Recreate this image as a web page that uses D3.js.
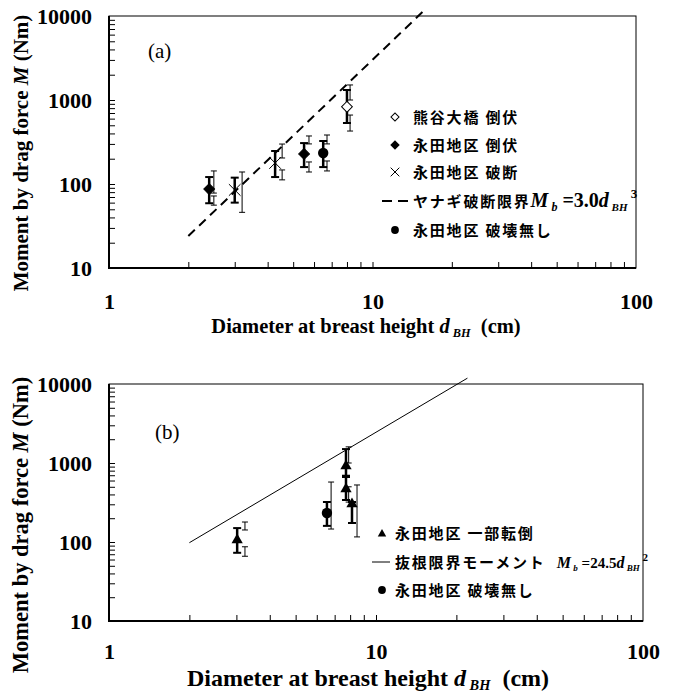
<!DOCTYPE html>
<html>
<head>
<meta charset="utf-8">
<script src="https://cdn.jsdelivr.net/npm/d3@7"></script>
<style>
  body { margin: 0; background: #fff; }
  text { fill: #000; white-space: pre; }
</style>
</head>
<body>
<div id="chart"></div>
<script>
// tick labels
const xMajor = [1, 10, 100];
const yMajor = [10, 100, 1000, 10000];

// panel (a) : d = diameter (cm), m = moment (Nm), bar = bold error bar, d2/thin = thin error bars
const aKumagayaFallen = [
  { d: 8.0, m: 830, bar: [532, 1316], d2: 8.22, thin: [[1000, 1510], [427, 662]] }
];
const aNagataFallen = [
  { d: 2.40, m: 87, bar: [59, 121], d2: 2.50, thin: [[78, 143], [56, 72]] },
  { d: 5.5, m: 228, bar: [159, 307], d2: 5.74, thin: [[300, 373], [139, 183]] }
];
const aNagataBroken = [
  { d: 3.0, m: 85, bar: [60, 119], d2: 3.2, thin: [[46, 139]] },
  { d: 4.27, m: 178, bar: [121, 247], d2: 4.54, thin: [[204, 299], [112, 147]] }
];
const aNagataIntact = [
  { d: 6.5, m: 234, bar: [159, 325], d2: 6.72, thin: [[300, 383], [143, 188]] }
];
const aLimitLine = [[2, 24], [15.5, 11200]];   // M_b = 3.0 d^3
const aLegend = ["熊谷大橋 倒伏", "永田地区 倒伏", "永田地区 破断", "ヤナギ破断限界", "永田地区 破壊無し"];

// panel (b)
const bNagataPartial = [
  { d: 3.02, m: 109, bar: [73, 150], d2: 3.23, thin: [[142, 179], [66, 87]] },
  { d: 7.72, m: 944, bar: [690, 1500], d2: 7.9, thin: [[1000, 1600]] },
  { d: 7.72, m: 483, bar: [340, 665], d2: 7.9, thin: [[320, 500]] },
  { d: 8.13, m: 312, bar: [174, 321], d2: 8.49, thin: [[116, 527]] }
];
const bNagataIntact = [
  { d: 6.55, m: 233, bar: [160, 321], d2: 6.79, thin: [[146, 574]] }
];
const bLimitLine = [[2, 98], [22, 11860]];     // M_b = 24.5 d^2
const bLegend = ["永田地区 一部転倒", "抜根限界モーメント", "永田地区 破壊無し"];

const SERIF = '"Liberation Serif", "Times New Roman", serif';
const JP = '"Noto Sans CJK JP", sans-serif';

const svg = d3.select("#chart").append("svg")
  .attr("width", 675).attr("height", 693);
svg.append("rect").attr("width", 675).attr("height", 693).attr("fill", "#fff");

function serif(sel, size, weight) {
  return sel.style("font-family", SERIF).style("font-weight", weight || "bold")
    .style("font-size", size + "px");
}

// writes mixed-style text as tspans: {t, it, s (baseline shift px), fs, jp}
function rich(sel, parts) {
  let cur = 0;
  parts.forEach(p => {
    const s = p.s || 0;
    const ts = sel.append("tspan").text(p.t).attr("dy", s - cur);
    cur = s;
    if (p.it) ts.style("font-style", "italic");
    if (p.fs) ts.style("font-size", p.fs + "px");
    if (p.jp) ts.style("font-family", JP).style("letter-spacing", "1.8px");
  });
}

function marker(g, type, cx, cy, k) {
  k = k || 1;
  if (type == "diamond" || type == "diamondOpen") {
    g.append("path")
      .attr("d", d3.symbol(d3.symbolSquare, 58 * k * k)())
      .attr("transform", `translate(${cx},${cy}) rotate(45)`)
      .attr("fill", type == "diamond" ? "#000" : "#fff")
      .attr("stroke", "#000").attr("stroke-width", 1);
  } else if (type == "x") {
    g.append("path")
      .attr("d", d3.symbol(d3.symbolX, 90 * k * k)())
      .attr("transform", `translate(${cx},${cy})`)
      .attr("fill", "none").attr("stroke", "#000").attr("stroke-width", 1);
  } else if (type == "circle") {
    g.append("path")
      .attr("d", d3.symbol(d3.symbolCircle, 85 * k * k)())
      .attr("transform", `translate(${cx},${cy})`)
      .attr("fill", "#000");
  } else if (type == "triangle") {
    g.append("path")
      .attr("d", d3.symbol(d3.symbolTriangle, 55 * k * k)())
      .attr("transform", `translate(${cx},${cy + 1})`)
      .attr("fill", "#000");
  }
}

function errBar(g, x0, y0, y1, w, sw, cw) {
  g.append("line").attr("x1", x0).attr("x2", x0).attr("y1", y0).attr("y2", y1)
    .attr("stroke", "#000").attr("stroke-width", sw);
  [y0, y1].forEach(yy => g.append("line")
    .attr("x1", x0 - w / 2).attr("x2", x0 + w / 2).attr("y1", yy).attr("y2", yy)
    .attr("stroke", "#000").attr("stroke-width", cw));
}

function drawPanel(p) {
  const g = svg.append("g");
  const x = d3.scaleLog().domain([1, 100]).range([p.left, p.right]);
  const y = d3.scaleLog().domain([10, 10000]).range([p.bottom, p.top]);

  // minor + major ticks pointing inward
  const xt = x.ticks().filter(v => v > 1 && v < 100);
  const yt = y.ticks().filter(v => v > 10 && v < 10000);
  g.append("g").attr("transform", `translate(0,${p.bottom})`)
    .call(d3.axisBottom(x).tickValues(xt).tickSize(-6).tickFormat(""))
    .call(a => a.select(".domain").remove());
  g.append("g").attr("transform", `translate(${p.left},0)`)
    .call(d3.axisLeft(y).tickValues(yt).tickSize(-6).tickFormat(""))
    .call(a => a.select(".domain").remove());

  // tick labels
  g.append("g").attr("transform", `translate(0,${p.bottom})`)
    .call(d3.axisBottom(x).tickValues(xMajor).tickSize(0).tickPadding(p.xPad).tickFormat(d3.format("d")))
    .call(a => a.select(".domain").remove())
    .selectAll("text").call(serif, 22);
  g.append("g").attr("transform", `translate(${p.left},0)`)
    .call(d3.axisLeft(y).tickValues(yMajor).tickSize(0).tickPadding(17).tickFormat(d3.format("d")))
    .call(a => a.select(".domain").remove())
    .selectAll("text").call(serif, 22);

  // frame
  g.append("rect").attr("x", p.left).attr("y", p.top)
    .attr("width", p.right - p.left).attr("height", p.bottom - p.top)
    .attr("fill", "none").attr("stroke", "#000").attr("stroke-width", 1);
  g.append("path")
    .attr("d", `M${p.left},${p.top}V${p.bottom}H${p.right}`)
    .attr("fill", "none").attr("stroke", "#000").attr("stroke-width", 2);

  // limit line
  g.append("path")
    .datum(p.line)
    .attr("d", d3.line().x(d => x(d[0])).y(d => y(d[1])))
    .attr("fill", "none").attr("stroke", "#000")
    .attr("stroke-width", p.dashed ? 2 : 1)
    .attr("stroke-dasharray", p.dashed ? "9,6" : null);

  // error bars then markers
  p.series.forEach(s => {
    s.data.forEach(d => {
      d.thin.forEach(t => errBar(g, x(d.d2), y(t[0]), y(t[1]), 6, 1, 1));
      errBar(g, x(d.d), y(d.bar[0]), y(d.bar[1]), 8, 2.5, 2);
    });
  });
  p.series.forEach(s => s.data.forEach(d => marker(g, s.type, x(d.d), y(d.m))));

  // panel tag
  g.append("text").attr("x", p.tag[1]).attr("y", p.tag[2])
    .call(serif, 21, "normal").text(p.tag[0]);

  // axis titles
  const yt2 = g.append("text")
    .attr("transform", `translate(28,${p.yMid}) rotate(-90)`)
    .attr("text-anchor", "middle").call(serif, p.yFs);
  rich(yt2, [{ t: "Moment by drag force " }, { t: "M", it: true }, { t: " (Nm)" }]);
  const xt2 = g.append("text")
    .attr("x", p.xMid).attr("y", p.xBase)
    .attr("text-anchor", "middle").call(serif, p.xFs);
  rich(xt2, [{ t: "Diameter at breast height " }, { t: "d", it: true },
    { t: " BH", it: true, fs: p.xFs * 0.6, s: 4 }, { t: "  (cm)", s: 0 }]);

  // legend
  p.legend.forEach((it, i) => {
    const cy = p.legY[i];
    if (it.type == "dash") {
      g.append("line").attr("x1", p.legLine[0]).attr("x2", p.legLine[1])
        .attr("y1", cy).attr("y2", cy).attr("stroke", "#000").attr("stroke-width", 2)
        .attr("stroke-dasharray", "10,6");
    } else if (it.type == "line") {
      g.append("line").attr("x1", p.legLine[0]).attr("x2", p.legLine[1])
        .attr("y1", cy).attr("y2", cy).attr("stroke", "#000").attr("stroke-width", 1);
    } else {
      marker(g, it.type, p.legSymX, cy, 0.75);
    }
    const t = g.append("text").attr("x", p.legTextX).attr("y", cy + 5.5).call(serif, 15);
    rich(t, [{ t: it.label, jp: true, fs: 15 }].concat(it.formula || []));
  });
}

drawPanel({
  left: 109, right: 636, top: 16, bottom: 268, xPad: 25,
  line: aLimitLine, dashed: true,
  series: [
    { type: "diamond", data: aNagataFallen },
    { type: "x", data: aNagataBroken },
    { type: "circle", data: aNagataIntact },
    { type: "diamondOpen", data: aKumagayaFallen }
  ],
  tag: ["(a)", 148, 58],
  yMid: 153, yFs: 21, xMid: 366, xBase: 333, xFs: 20.5,
  legY: [117, 145, 172, 201, 230], legSymX: 395, legTextX: 413, legLine: [382, 410],
  legend: [
    { type: "diamondOpen", label: aLegend[0] },
    { type: "diamond", label: aLegend[1] },
    { type: "x", label: aLegend[2] },
    { type: "dash", label: aLegend[3], formula: [
      { t: "M", it: true, fs: 20 }, { t: " b", it: true, fs: 12, s: 4 },
      { t: " =3.0", fs: 20, s: 0 }, { t: "d", it: true, fs: 20 },
      { t: " BH", it: true, fs: 11, s: 4 }, { t: " 3", fs: 13, s: -9 }] },
    { type: "circle", label: aLegend[4] }
  ]
});

drawPanel({
  left: 109, right: 643, top: 384, bottom: 621, xPad: 22,
  line: bLimitLine, dashed: false,
  series: [
    { type: "circle", data: bNagataIntact },
    { type: "triangle", data: bNagataPartial }
  ],
  tag: ["(b)", 155, 439],
  yMid: 525, yFs: 22.5, xMid: 368, xBase: 686, xFs: 24,
  legY: [533, 562, 590], legSymX: 382, legTextX: 395, legLine: [372, 390],
  legend: [
    { type: "triangle", label: bLegend[0] },
    { type: "line", label: bLegend[1], formula: [
      { t: "   " }, { t: "M", it: true, fs: 16 }, { t: " b", it: true, fs: 9, s: 3 },
      { t: " =24.5", fs: 15, s: 0 }, { t: "d", it: true, fs: 16 },
      { t: " BH", it: true, fs: 9, s: 3 }, { t: " 2", fs: 11, s: -7 }] },
    { type: "circle", label: bLegend[2] }
  ]
});
</script>
</body>
</html>
